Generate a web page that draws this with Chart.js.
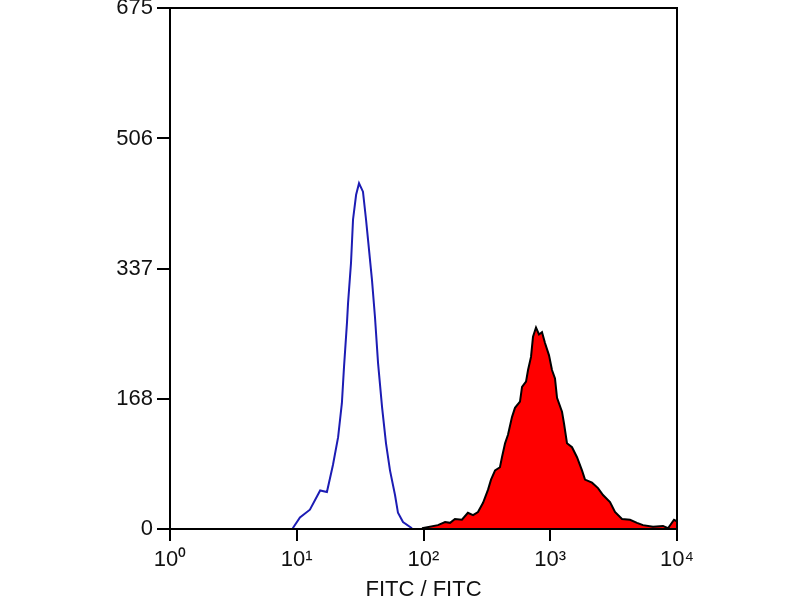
<!DOCTYPE html>
<html>
<head>
<meta charset="utf-8">
<script src="https://cdn.jsdelivr.net/npm/chart.js@4.4.1/dist/chart.umd.min.js"></script>
<style>
  html, body { margin: 0; padding: 0; background: #fff; }
  #wrap { width: 800px; height: 600px; position: relative; }
</style>
</head>
<body>
<div id="wrap"><canvas id="c" width="800" height="600"></canvas></div>
<script>
// ---- data ----
const xTickValues = [1, 10, 100, 1000, 10000];
const xTickLabels = ['10\u2070', '10\u00b9', '10\u00b2', '10\u00b3', '10\u2074'];
const yTickValues = [0, 168, 337, 506, 675];
const xTitle = 'FITC / FITC';

// control (blue outline) histogram
const blueX = [9.3, 10.6, 12.7, 15.3, 17.3, 19.3, 21.2, 22.7, 23.6, 24.9, 25.4, 26.8, 27.8, 29.4, 31.0, 33.3, 35.2, 36.5, 39.2, 41.4, 43.8, 47.1, 50.6, 54.4, 59.6, 62.9, 68.9, 81.1];
const blueY = [1, 15, 25, 50, 48, 83, 119, 163, 210, 267, 293, 345, 401, 433, 448, 437, 401, 375, 323, 275, 215, 158, 111, 76, 44, 21, 9, 1];

// stained (red filled) histogram
const redX = [97.3, 130, 148, 162, 177, 201, 224, 246, 269, 295, 323, 341, 367, 401, 416, 440, 464, 499, 527, 577, 599, 644, 668, 705, 731, 772, 815, 861, 909, 978, 1032, 1090, 1131, 1238, 1283, 1356, 1485, 1626, 1780, 1880, 2135, 2381, 2608, 2961, 3242, 3682, 4258, 4836, 5391, 6466, 7754, 8492, 9470, 10000];
const redY = [1, 5, 9, 8, 13, 12, 21, 18, 22, 34, 51, 64, 76, 80, 93, 111, 122, 145, 157, 165, 184, 191, 206, 223, 249, 261, 252, 255, 241, 225, 206, 195, 170, 152, 137, 111, 106, 93, 76, 64, 60, 53, 44, 35, 22, 13, 12, 8, 5, 3, 4, 1, 12, 10];

const bluePts = blueX.map((x, i) => ({ x: x, y: blueY[i] }));
const redPts = redX.map((x, i) => ({ x: x, y: redY[i] }));

const framePlugin = {
  id: 'frame',
  afterDatasetsDraw(chart) {
    const a = chart.chartArea, ctx = chart.ctx;
    ctx.save();
    ctx.strokeStyle = '#000';
    ctx.lineWidth = 2;
    ctx.strokeRect(a.left, a.top, a.right - a.left, a.bottom - a.top);
    ctx.restore();
  }
};

const labelFont = { family: 'Liberation Sans', size: 22 };

new Chart(document.getElementById('c'), {
  type: 'scatter',
  data: {
    datasets: [
      {
        label: 'stained',
        data: redPts,
        showLine: true,
        fill: 'origin',
        backgroundColor: '#ff0000',
        borderColor: '#000',
        borderWidth: 2,
        pointRadius: 0,
        tension: 0
      },
      {
        label: 'control',
        data: bluePts,
        showLine: true,
        fill: false,
        borderColor: '#1c1cb4',
        borderWidth: 2,
        pointRadius: 0,
        tension: 0
      }
    ]
  },
  plugins: [framePlugin],
  options: {
    responsive: false,
    animation: false,
    devicePixelRatio: 1,
    layout: { padding: { left: 0, right: 123, top: 8, bottom: 0 } },
    plugins: { legend: { display: false }, tooltip: { enabled: false } },
    scales: {
      x: {
        type: 'logarithmic',
        min: 1,
        max: 10000,
        afterBuildTicks(scale) { scale.ticks = xTickValues.map(v => ({ value: v })); },
        afterFit(scale) { scale.height = 71; scale.paddingLeft = 0; scale.paddingRight = 0; },
        ticks: {
          autoSkip: false,
          maxRotation: 0,
          padding: 6,
          color: '#111',
          font: labelFont,
          callback(v) { const i = xTickValues.indexOf(v); return i >= 0 ? xTickLabels[i] : ''; }
        },
        grid: { drawOnChartArea: false, drawTicks: true, tickLength: 12, color: '#000', lineWidth: 2 },
        border: { display: false },
        title: {
          display: true,
          text: xTitle,
          color: '#111',
          font: { family: 'Liberation Sans', size: 22, lineHeight: 0.2 },
          padding: { top: 0, bottom: 8 }
        }
      },
      y: {
        min: 0,
        max: 675,
        afterBuildTicks(scale) { scale.ticks = yTickValues.map(v => ({ value: v })); },
        afterFit(scale) { scale.width = 170; scale.paddingTop = 0; scale.paddingBottom = 0; },
        ticks: {
          autoSkip: false,
          padding: 4,
          color: '#111',
          font: labelFont
        },
        grid: { drawOnChartArea: false, drawTicks: true, tickLength: 13, color: '#000', lineWidth: 2 },
        border: { display: false }
      }
    }
  }
});
</script>
</body>
</html>
